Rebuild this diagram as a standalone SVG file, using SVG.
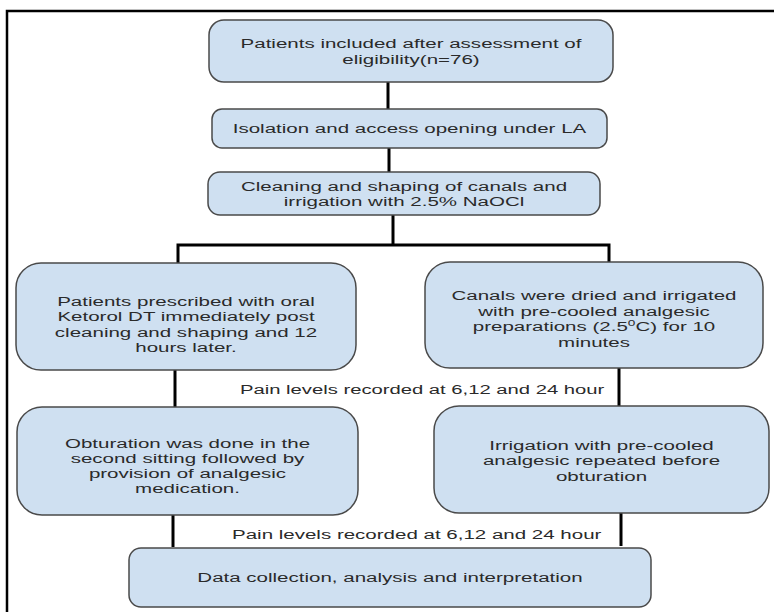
<svg xmlns="http://www.w3.org/2000/svg" width="774" height="612" viewBox="0 0 774 612">
<style>
.box{fill:#cfe0f1;stroke:#4a4a4a;stroke-width:1.5}
.t{font-family:"Liberation Sans",Arial,sans-serif;font-size:13.5px;fill:#2a2a2a;text-anchor:middle}
.l{font-family:"Liberation Sans",Arial,sans-serif;font-size:13.5px;fill:#2a2a2a;text-anchor:start}
.c{fill:none;stroke:#000;stroke-width:3}
</style>
<rect width="774" height="612" fill="#fff"/>
<path d="M7,612 V11 H774" fill="none" stroke="#000" stroke-width="2.5"/>
<g id="connectors">
<path class="c" d="M388,82 V109"/>
<path class="c" d="M389,148 V172"/>
<path class="c" d="M393,215 V245"/>
<path class="c" d="M178,263 V245 H609 V262"/>
<path class="c" d="M175,370 V407"/>
<path class="c" d="M619,368 V406"/>
<path class="c" d="M173,515 V547"/>
<path class="c" d="M621,513 V546"/>
<g transform="translate(240,0) scale(1.5,1)">
<text class="l" x="0" y="394">Pain levels recorded at 6,12 and 24 hour</text>
</g>
<g transform="translate(232,0) scale(1.52,1)">
<text class="l" x="0" y="539">Pain levels recorded at 6,12 and 24 hour</text>
</g>
</g>
<g id="n1">
<rect class="box" x="209" y="20" width="404" height="62" rx="15"/>
<g transform="translate(411,0) scale(1.52,1)">
<text class="t" x="0" y="48">Patients included after assessment of</text>
<text class="t" x="0" y="64">eligibility(n=76)</text>
</g>
</g>
<g id="n2">
<rect class="box" x="212" y="109" width="395" height="39" rx="10"/>
<g transform="translate(409.5,0) scale(1.52,1)">
<text class="t" x="0" y="133">Isolation and access opening under LA</text>
</g>
</g>
<g id="n3">
<rect class="box" x="208" y="172" width="392" height="43" rx="12"/>
<g transform="translate(404,0) scale(1.52,1)">
<text class="t" x="0" y="191">Cleaning and shaping of canals and</text>
<text class="t" x="0" y="206.5">irrigation with 2.5% NaOCl</text>
</g>
</g>
<g id="n4">
<rect class="box" x="16" y="263" width="340" height="107" rx="25"/>
<g transform="translate(186,0) scale(1.52,1)">
<text class="t" x="0" y="306">Patients prescribed with oral</text>
<text class="t" x="0" y="321.5">Ketorol DT immediately post</text>
<text class="t" x="0" y="337">cleaning and shaping and 12</text>
<text class="t" x="0" y="352.5">hours later.</text>
</g>
</g>
<g id="n5">
<rect class="box" x="425" y="262" width="338" height="106" rx="25"/>
<g transform="translate(594,0) scale(1.52,1)">
<text class="t" x="0" y="300.5">Canals were dried and irrigated</text>
<text class="t" x="0" y="316">with pre-cooled analgesic</text>
<text class="t" x="0" y="331.5">preparations (2.5<tspan font-size="9" dy="-5">0</tspan><tspan dy="5">C) for 10</tspan></text>
<text class="t" x="0" y="347">minutes</text>
</g>
</g>
<g id="n6">
<rect class="box" x="17" y="407" width="341" height="108" rx="25"/>
<g transform="translate(187.5,0) scale(1.52,1)">
<text class="t" x="0" y="448">Obturation was done in the</text>
<text class="t" x="0" y="463">second sitting followed by</text>
<text class="t" x="0" y="478">provision of analgesic</text>
<text class="t" x="0" y="493">medication.</text>
</g>
</g>
<g id="n7">
<rect class="box" x="434" y="406" width="335" height="107" rx="25"/>
<g transform="translate(601.5,0) scale(1.52,1)">
<text class="t" x="0" y="450">Irrigation with pre-cooled</text>
<text class="t" x="0" y="465.5">analgesic repeated before</text>
<text class="t" x="0" y="481">obturation</text>
</g>
</g>
<g id="n8">
<rect class="box" x="129" y="548" width="522" height="59" rx="12"/>
<g transform="translate(390,0) scale(1.52,1)">
<text class="t" x="0" y="582">Data collection, analysis and interpretation</text>
</g>
</g>
</svg>
